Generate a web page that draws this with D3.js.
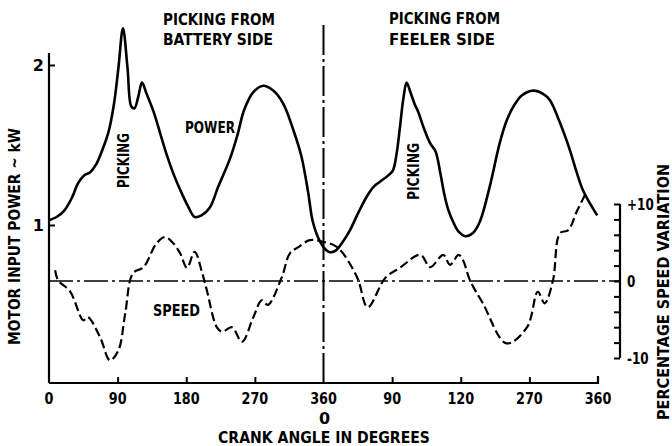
<!DOCTYPE html>
<html>
<head>
<meta charset="utf-8">
<script src="https://cdn.jsdelivr.net/npm/d3@7"></script>
<style>
  body { margin: 0; background: #fff; }
  svg text { font-family: "DejaVu Sans", sans-serif; font-weight: bold; fill: #000; }
</style>
</head>
<body>
<svg id="chart" width="672" height="446"></svg>
<script>
// crank angle runs 0-720 (battery side then feeler side)
const powerAngle = [0, 10, 20, 30, 38, 46, 54, 62, 70, 78, 85, 91, 97, 103, 108, 112, 117, 122, 128, 137, 146, 155, 164, 172, 182, 191, 200, 211, 222, 237, 247, 256, 268, 281, 294, 307, 320, 331, 340, 346, 355, 362, 368, 376, 386, 395, 406, 417, 426, 434, 445, 451, 456, 460, 465, 469, 474, 480, 484, 492, 500, 507, 513, 519, 524, 530, 537, 546, 556, 565, 578, 591, 600, 609, 620, 635, 648, 657, 670, 683, 692, 700, 710, 719];
const powerKW = [1.03, 1.05, 1.09, 1.17, 1.26, 1.31, 1.33, 1.38, 1.47, 1.58, 1.75, 1.98, 2.23, 1.98, 1.74, 1.73, 1.80, 1.89, 1.82, 1.71, 1.57, 1.43, 1.31, 1.22, 1.12, 1.05, 1.06, 1.11, 1.24, 1.41, 1.56, 1.72, 1.83, 1.87, 1.84, 1.76, 1.60, 1.43, 1.20, 1.02, 0.90, 0.85, 0.83, 0.84, 0.90, 0.97, 1.08, 1.18, 1.24, 1.27, 1.31, 1.34, 1.45, 1.60, 1.80, 1.89, 1.83, 1.75, 1.71, 1.60, 1.51, 1.46, 1.33, 1.18, 1.09, 1.02, 0.96, 0.93, 0.95, 1.02, 1.24, 1.51, 1.65, 1.74, 1.81, 1.84, 1.82, 1.78, 1.64, 1.47, 1.33, 1.22, 1.13, 1.06];

const speedAngle = [8, 12, 28, 45, 51, 67, 80, 91, 100, 110, 124, 141, 152, 163, 172, 181, 191, 201, 207, 220, 227, 240, 253, 268, 279, 287, 305, 316, 327, 342, 359, 378, 404, 418, 441, 460, 487, 500, 517, 526, 537, 543, 552, 569, 600, 627, 641, 650, 661, 670, 681, 692, 703];
const speedPct = [1.4, 0.1, -1.4, -5.1, -4.7, -7.3, -10.3, -9.0, -4.2, 1.0, 1.8, 4.9, 5.7, 4.9, 3.6, 1.7, 3.8, 1.0, -1.2, -6.0, -6.6, -6.0, -7.9, -4.7, -2.5, -3.1, 0.4, 3.6, 4.4, 5.3, 5.1, 4.4, 0.5, -3.4, 0.4, 1.7, 3.4, 1.8, 3.4, 2.1, 3.4, 2.7, 0.1, -2.9, -8.1, -6.0, -1.4, -2.9, 0.1, 6.2, 6.6, 9.0, 11.2];

const xTickValues = [0, 90, 180, 270, 360, 450, 540, 630, 720];
const xTickLabels = ['0', '90', '180', '270', '360', '90', '120', '270', '360'];
const powerTicks = [1, 2];
const speedTicks = [-10, -8, -6, -4, -2, 0, 2, 4, 6, 8, 10];
const speedTickLabels = { '-10': '-10', '0': '0', '10': '+10' };

const svg = d3.select('#chart');
const x = d3.scaleLinear().domain([0, 720]).range([49, 598]);
const yP = d3.scaleLinear().domain([1, 2]).range([225, 65]);
const yS = d3.scaleLinear().domain([-10, 10]).range([358, 204]);
const baseY = 383, rightX = 620;

// the original lettering is condensed, squeeze the glyphs
function squeeze(sel, f) {
  const w = sel.node().getComputedTextLength();
  sel.attr('textLength', w * f).attr('lengthAdjust', 'spacingAndGlyphs');
  return sel;
}
function fit(sel, w) {
  return sel.attr('textLength', w).attr('lengthAdjust', 'spacingAndGlyphs');
}

// axes
svg.append('line').attr('x1', 49).attr('x2', 49).attr('y1', 53).attr('y2', baseY)
  .attr('stroke', '#000').attr('stroke-width', 2.2);
svg.append('path').attr('d', `M49,${baseY}H${x(720)}V${baseY - 7}`)
  .attr('fill', 'none').attr('stroke', '#000').attr('stroke-width', 2.2);

const xAxis = d3.axisBottom(x).tickValues(xTickValues.filter(d => d > 0 && d < 720 && d !== 360))
  .tickSize(-6).tickFormat('');
svg.append('g').attr('transform', `translate(0,${baseY})`).call(xAxis)
  .call(g => g.select('.domain').remove())
  .selectAll('line').attr('stroke', '#000').attr('stroke-width', 2);

xTickValues.forEach((d, i) => {
  squeeze(svg.append('text').attr('x', x(d)).attr('y', 404).attr('text-anchor', 'middle')
    .attr('font-size', 16).text(xTickLabels[i]), 0.8);
});
svg.append('text').attr('x', x(360) + 1).attr('y', 424).attr('text-anchor', 'middle')
  .attr('font-size', 16).text('0');
fit(svg.append('text').attr('x', 218).attr('y', 443)
  .attr('font-size', 16).text('CRANK ANGLE IN DEGREES'), 212);

// left axis
const yAxisL = d3.axisRight(yP).tickValues(powerTicks).tickSize(6).tickFormat('');
svg.append('g').attr('transform', 'translate(49,0)').call(yAxisL)
  .call(g => g.select('.domain').remove())
  .selectAll('line').attr('stroke', '#000').attr('stroke-width', 2);
powerTicks.forEach(d => {
  svg.append('text').attr('x', 44).attr('y', yP(d) + 6).attr('text-anchor', 'end')
    .attr('font-size', 16).text(d);
});
fit(svg.append('text').attr('transform', 'translate(20,345) rotate(-90)')
  .attr('font-size', 16).text('MOTOR INPUT POWER ~ kW'), 217);

// right axis
svg.append('line').attr('x1', rightX).attr('x2', rightX).attr('y1', yS(10)).attr('y2', yS(-10))
  .attr('stroke', '#000').attr('stroke-width', 2.2);
const yAxisR = d3.axisLeft(yS).tickValues(speedTicks).tickSize(6).tickFormat('');
svg.append('g').attr('transform', `translate(${rightX},0)`).call(yAxisR)
  .call(g => g.select('.domain').remove())
  .selectAll('line').attr('stroke', '#000').attr('stroke-width', 2);
speedTicks.filter(d => speedTickLabels[d] !== undefined).forEach(d => {
  squeeze(svg.append('text').attr('x', 627).attr('y', yS(d) + 6)
    .attr('font-size', 16).text(speedTickLabels[d]), 0.75);
});
fit(svg.append('text').attr('transform', 'translate(669,420) rotate(-90)')
  .attr('font-size', 16).text('PERCENTAGE SPEED VARIATION'), 256);

// reference lines
svg.append('line').attr('x1', 49).attr('x2', rightX).attr('y1', yS(0)).attr('y2', yS(0))
  .attr('stroke', '#000').attr('stroke-width', 1.6).attr('stroke-dasharray', '24,4,3,4');
svg.append('line').attr('x1', x(360)).attr('x2', x(360)).attr('y1', 25).attr('y2', baseY)
  .attr('stroke', '#000').attr('stroke-width', 2).attr('stroke-dasharray', '30,4,3,4');

// curves
const powerLine = d3.line().x((d, i) => x(powerAngle[i])).y(d => yP(d)).curve(d3.curveCatmullRom.alpha(0.5));
svg.append('path').attr('d', powerLine(powerKW)).attr('fill', 'none')
  .attr('stroke', '#000').attr('stroke-width', 2.6).attr('stroke-linejoin', 'round');

const speedLine = d3.line().x((d, i) => x(speedAngle[i])).y(d => yS(d)).curve(d3.curveCatmullRom.alpha(0.5));
svg.append('path').attr('d', speedLine(speedPct)).attr('fill', 'none')
  .attr('stroke', '#000').attr('stroke-width', 2.2).attr('stroke-dasharray', '9,4');

// annotations
const notes = [
  { t: 'PICKING FROM', x: 163, y: 25, w: 112 },
  { t: 'BATTERY SIDE', x: 163, y: 45, w: 110 },
  { t: 'PICKING FROM', x: 389, y: 24, w: 111 },
  { t: 'FEELER SIDE', x: 389, y: 45, w: 106 },
  { t: 'POWER', x: 185, y: 133, w: 50 },
  { t: 'SPEED', x: 153, y: 316, w: 47 }
];
notes.forEach(n => {
  fit(svg.append('text').attr('x', n.x).attr('y', n.y).attr('font-size', 16).text(n.t), n.w);
});
[[129, 188, 55], [419, 200, 57]].forEach(p => {
  fit(svg.append('text').attr('transform', `translate(${p[0]},${p[1]}) rotate(-90)`)
    .attr('font-size', 15).text('PICKING'), p[2]);
});
</script>
</body>
</html>
